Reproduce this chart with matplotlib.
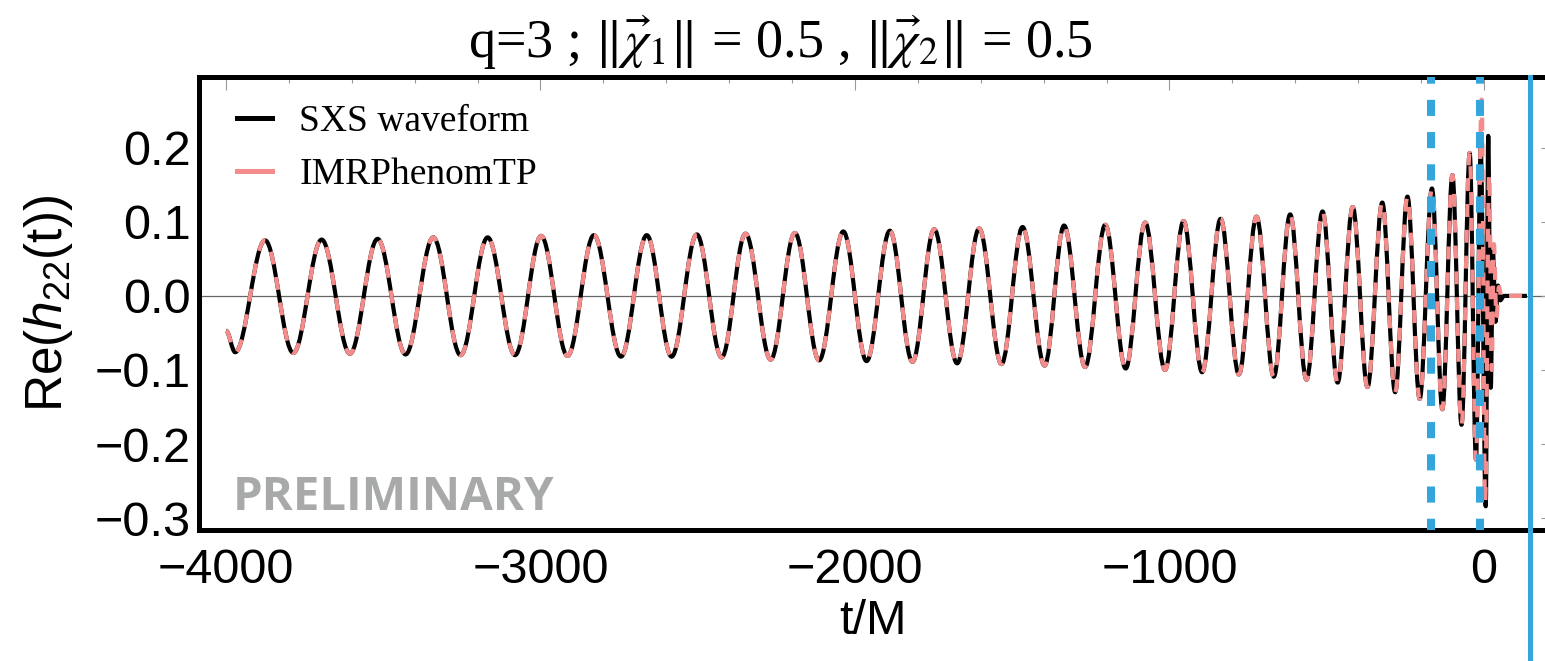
"""
Re(h22) of an SXS waveform against IMRPhenomTP for q=3, |chi1|=|chi2|=0.5.
"""
import matplotlib

matplotlib.use("Agg")
import matplotlib.pyplot as plt
from matplotlib.lines import Line2D
from matplotlib.patches import PathPatch
from matplotlib.path import Path

# inspiral extrema, shared by both waveforms (t/M, Re h22)
inspiral_t = [-4000, -3971, -3876, -3786, -3696, -3606, -3518, -3429, -3341, -3254,
              -3168, -3081, -2998, -2914, -2830, -2744, -2662, -2583, -2503, -2424,
              -2348, -2268, -2191, -2114, -2037, -1963, -1889, -1817, -1748, -1675,
              -1605, -1534, -1467, -1397, -1335, -1268, -1204, -1139, -1077, -1014,
              -955, -896, -837, -779, -723, -668, -616, -564, -513, -465,
              -417, -370, -323, -282, -243, -204, -165, -132, -100, -71,
              -45, -25]
inspiral_h = [-0.047, -0.076, 0.075, -0.077, 0.076, -0.078, 0.077, -0.079, 0.079, -0.080,
              0.079, -0.080, 0.081, -0.081, 0.082, -0.082, 0.082, -0.082, 0.083, -0.083,
              0.084, -0.086, 0.085, -0.087, 0.087, -0.088, 0.088, -0.089, 0.090, -0.091,
              0.091, -0.092, 0.093, -0.094, 0.095, -0.096, 0.096, -0.098, 0.099, -0.100,
              0.101, -0.103, 0.104, -0.106, 0.107, -0.109, 0.110, -0.113, 0.114, -0.117,
              0.120, -0.123, 0.126, -0.130, 0.134, -0.139, 0.145, -0.153, 0.163, -0.174,
              0.193, -0.221]

# merger / ringdown extrema, where the two models separate
sxs_t = [-10, 6, 14, 22, 29, 37, 45, 52, 64, 137]
sxs_h = [0.200, -0.284, 0.216, -0.124, 0.060, -0.035, 0.014, -0.006, 0.0, 0.0]
tp_t = [-7, 4, 17, 25, 32, 40, 48, 57, 70, 137]
tp_h = [0.265, -0.279, 0.165, -0.100, 0.070, -0.030, 0.012, -0.004, 0.0, 0.0]

dashed_marks = [-168, -13]
solid_mark = 146

x_ticks = [-4000, -3000, -2000, -1000, 0]
x_labels = ["\u22124000", "\u22123000", "\u22122000", "\u22121000", "0"]
y_ticks = [-0.3, -0.2, -0.1, 0.0, 0.1, 0.2]
y_labels = ["\u22120.3", "\u22120.2", "\u22120.1", "0.0", "0.1", "0.2"]

PINK = "#F58C8C"
BLUE = "#34A6DB"
# horizontal control-point fraction that makes a cubic Bezier follow a half sine
K = 0.363

plt.rcParams["mathtext.fontset"] = "custom"
plt.rcParams["mathtext.rm"] = "Liberation Sans"
plt.rcParams["mathtext.it"] = "Liberation Sans:italic"


def wave_path(t, h):
    """Smooth path through successive extrema, flat tangent at each one."""
    verts = [(t[0], h[0])]
    codes = [Path.MOVETO]
    for i in range(1, len(t)):
        dt = t[i] - t[i - 1]
        verts += [(t[i - 1] + K * dt, h[i - 1]), (t[i] - K * dt, h[i]), (t[i], h[i])]
        codes += [Path.CURVE4] * 3
    return Path(verts, codes)


fig = plt.figure(figsize=(15.45, 6.61), dpi=100)
ax = fig.add_axes([199 / 1545, 131 / 661, 1349 / 1545, 453 / 661])

ax.axhline(0, color="#666666", lw=0.9, zorder=1)

sxs = wave_path(inspiral_t + sxs_t, inspiral_h + sxs_h)
tp = wave_path(inspiral_t + tp_t, inspiral_h + tp_h)
ax.add_patch(PathPatch(sxs, fill=False, edgecolor="black", lw=3.0,
                       joinstyle="round", zorder=3))
ax.add_patch(PathPatch(tp, fill=False, edgecolor=PINK, lw=3.0,
                       linestyle=(0, (3.1, 3.1)), joinstyle="round", zorder=4))

for t in dashed_marks:
    ax.axvline(t, color=BLUE, lw=5.8, linestyle=(0.6, (2, 2)), zorder=5)
ax.axvline(solid_mark, ymin=-0.35, ymax=1, color=BLUE, lw=3.6, clip_on=False, zorder=5)

ax.set_xlim(-4086, 204)
ax.set_ylim(-0.316, 0.2955)

ax.set_xticks(x_ticks, x_labels)
ax.set_xticks(range(-4000, 201, 200), minor=True)
ax.set_yticks(y_ticks, y_labels)
ax.tick_params(axis="x", which="both", bottom=False, top=True, direction="in",
               color="#999999", width=0.8, labelsize=35, pad=13)
ax.tick_params(axis="x", which="major", length=9)
ax.tick_params(axis="x", which="minor", length=4.5)
ax.tick_params(axis="y", left=False, right=True, direction="in", length=5,
               color="#999999", width=0.8, labelsize=35, pad=6)
for lab in ax.get_xticklabels() + ax.get_yticklabels():
    lab.set_family("Liberation Sans")

for side in ("top", "bottom", "left"):
    ax.spines[side].set_linewidth(3.6)
ax.spines["right"].set_visible(False)

ax.set_xlabel("t/M", family="Liberation Sans", fontsize=35, labelpad=4)
ax.set_ylabel(r"Re($h_{22}$(t))", family="Liberation Sans", fontsize=37)
ax.yaxis.set_label_coords(-0.092, 0.5)

handles = [Line2D([], [], color="black", lw=3.6), Line2D([], [], color=PINK, lw=3.6)]
ax.legend(handles, ["SXS waveform", "IMRPhenomTP"], loc="upper left",
          bbox_to_anchor=(0.028, 0.94), frameon=False, borderpad=0, borderaxespad=0,
          prop={"family": "Liberation Serif", "size": 27},
          handlelength=0.95, handletextpad=0.72, labelspacing=0.5)

ax.text(0.025, 0.045, "PRELIMINARY", transform=ax.transAxes, family="Open Sans",
        weight="bold", fontsize=34, color="#A8AAA9")

fig.text(0.505, 0.935, r"q=3 ; $\Vert\vec{\chi}_1\Vert$ = 0.5 , $\Vert\vec{\chi}_2\Vert$ = 0.5",
         ha="center", va="center", family="Liberation Serif", math_fontfamily="stix",
         fontsize=39)

fig.savefig("out.png", dpi=100)
